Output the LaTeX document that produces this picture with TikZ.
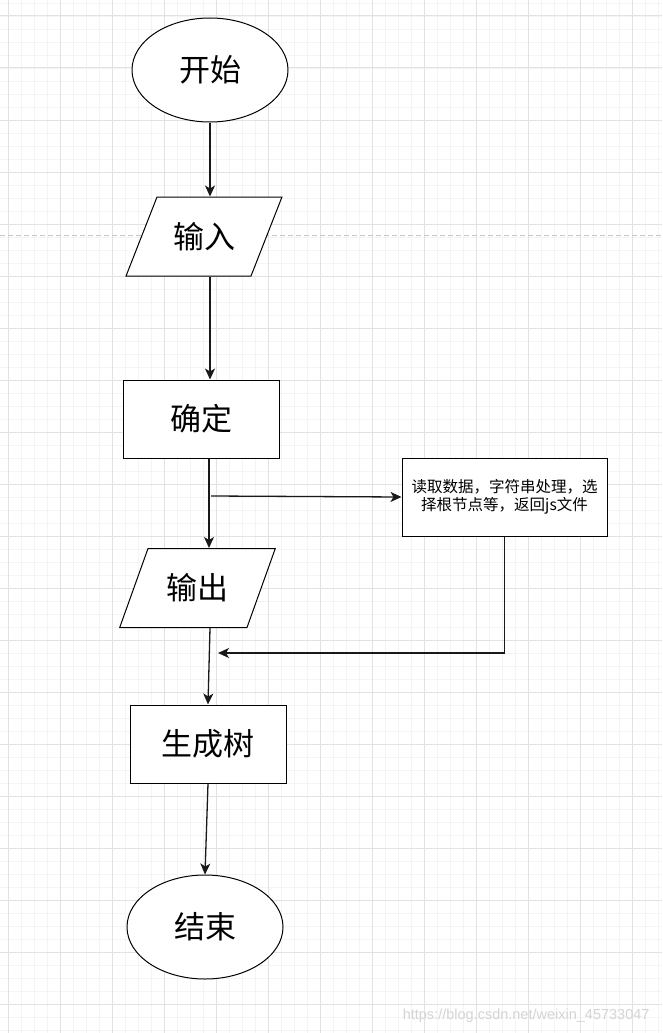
\documentclass[tikz,border=0pt]{standalone}
\usepackage{fontspec}
\newfontfamily\cjk{Noto Sans CJK SC}
\setsansfont{Liberation Sans}
\usetikzlibrary{positioning,arrows.meta,calc,shapes.geometric}
\definecolor{gridmajor}{RGB}{226,226,226}
\definecolor{gridminor}{RGB}{244,244,244}
\definecolor{dashgray}{RGB}{200,200,200}
\definecolor{markgray}{RGB}{212,212,212}
\tikzset{
  flowline/.style={line width=1.3pt,draw=black!90},
  flowarrow/.style={flowline,-{Stealth[length=11pt,width=10pt,inset=3pt]}},
  shapebase/.style={draw=black,fill=white,line width=1pt,inner sep=0pt,font=\cjk\fontsize{31}{36}\selectfont},
  term/.style={shapebase,ellipse,minimum width=156pt,minimum height=104pt},
  % parallelogram: body width, slant angle
  iobox/.style n args={2}{shapebase,trapezium,trapezium left angle=#2,trapezium right angle={180-#2},
    text width=64pt,align=center,text height=25pt,text depth=2pt,inner xsep={(#1-64pt)/2},inner ysep=26pt},
  procbox/.style={shapebase,rectangle,minimum width=156pt,minimum height=78pt},
  notebox/.style={shapebase,rectangle,minimum width=205pt,minimum height=78pt,align=center,font=\cjk\fontsize{15.5}{18}\selectfont}
}

\begin{document}
\begin{tikzpicture}[x=1pt,y=-1pt]
\useasboundingbox (0,0) rectangle (662,1033);
\fill[white] (0,0) rectangle (662,1033);
% grid
\foreach \k in {0,...,50}
  \draw[gridminor,line width=0.8pt] ({8+13*\k},0) -- ({8+13*\k},1033);
\foreach \k in {-1,...,78}
  \draw[gridminor,line width=0.8pt] (0,{16+13*\k}) -- (662,{16+13*\k});
\foreach \k in {0,...,12}
  \draw[gridmajor,line width=1pt] ({8+52*\k},0) -- ({8+52*\k},1033);
\foreach \k in {0,...,19}
  \draw[gridmajor,line width=1pt] (0,{16+52*\k}) -- (662,{16+52*\k});
\draw[dashgray,line width=1pt,dash pattern=on 5pt off 3pt] (0,235) -- (662,235);

\node[term] (start) at (210,70) {开始};
\node[iobox={94pt}{68.6}] (in) at (204,236.5) {输入};
\node[procbox] (ok) at (201,419) {确定};
\node[notebox] (proc) at (504.5,497) {读取数据，字符串处理，选\\择根节点等，返回js文件};
\node[iobox={99pt}{70.3}] (out) at (197.5,588) {输出};
\node[procbox] (tree) at (208,744) {生成树};
\node[term] (end) at (205,927) {结束};

\coordinate (split) at (211,496);
\coordinate (join) at (218,653);

\draw[flowarrow] (start.south) -- (start.south |- in.north);
\draw[flowarrow] (in.south -| start) -- (ok.north -| start);
\draw[flowarrow] ($(ok.south)+(8,0)$) -- ($(out.north)+(11.5,0)$);
\draw[flowarrow] (split) -- (proc.west);
\draw[flowarrow] (proc.south) |- (join);
\draw[flowarrow] ($(out.south)+(12.5,0)$) -- (tree.north);
\draw[flowarrow] (tree.south) -- (end.north);

\node[markgray,anchor=east,font=\sffamily\fontsize{14.5}{16}\selectfont] (mark) at (653,1016) {https://blog.csdn.net/weixin\_45733047};
\end{tikzpicture}
\end{document}
